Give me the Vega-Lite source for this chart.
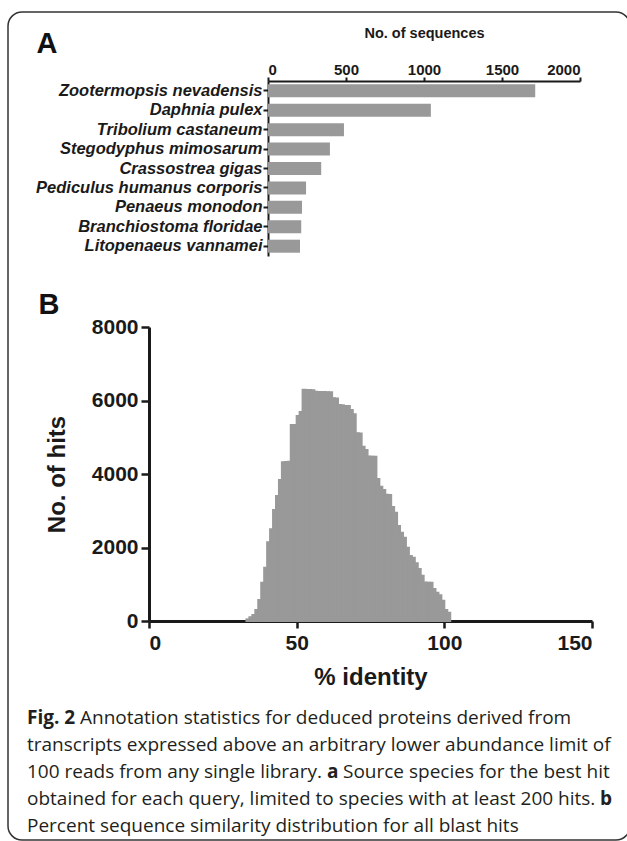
{
  "$schema": "https://vega.github.io/schema/vega-lite/v6.json",
  "width": 622,
  "height": 828,
  "autosize": {"type": "none"},
  "padding": {"left": 8, "top": 12, "right": -3, "bottom": 1},
  "background": "white",
  "config": {
    "font": "Liberation Sans",
    "view": {"stroke": "#333333", "strokeWidth": 1.5, "cornerRadius": 14, "fill": "white"},
    "axis": {
      "grid": false,
      "domainColor": "#1a1a1a",
      "tickColor": "#1a1a1a",
      "labelColor": "#1a1a1a",
      "titleColor": "#1a1a1a",
      "labelFont": "Liberation Sans",
      "titleFont": "Liberation Sans",
      "labelFontWeight": "bold",
      "titleFontWeight": "bold",
      "labelLimit": 400
    }
  },
  "resolve": {
    "scale": {"x": "independent", "y": "independent"},
    "axis": {"x": "independent", "y": "independent"}
  },
  "layer": [
    {
      "data": {
        "values": [
          {"species": "Zootermopsis nevadensis", "sequences": 1713},
          {"species": "Daphnia pulex", "sequences": 1044},
          {"species": "Tribolium castaneum", "sequences": 487},
          {"species": "Stegodyphus mimosarum", "sequences": 397},
          {"species": "Crassostrea gigas", "sequences": 341},
          {"species": "Pediculus humanus corporis", "sequences": 244},
          {"species": "Penaeus monodon", "sequences": 218},
          {"species": "Branchiostoma floridae", "sequences": 213},
          {"species": "Litopenaeus vannamei", "sequences": 205}
        ]
      },
      "mark": {"type": "bar", "color": "#999999", "opacity": 1},
      "encoding": {
        "y": {
          "field": "species",
          "type": "nominal",
          "sort": null,
          "scale": {"range": [69, 244], "paddingInner": 0.33, "paddingOuter": 0.17},
          "axis": {
            "orient": "left",
            "offset": -260,
            "title": null,
            "labelFontStyle": "italic",
            "labelFontSize": 16.5,
            "labelPadding": 1,
            "labelLimit": 400,
            "tickSize": 5,
            "tickWidth": 2,
            "domainWidth": 2
          }
        },
        "x": {
          "field": "sequences",
          "type": "quantitative",
          "scale": {"domain": [0, 2000], "range": [260, 572], "nice": false},
          "axis": {
            "orient": "top",
            "offset": -69,
            "values": [0, 500, 1000, 1500, 2000],
            "format": "d",
            "title": "No. of sequences",
            "titleFontSize": 14.5,
            "titleY": -48,
            "titleBaseline": "middle",
            "labelFontSize": 15,
            "labelPadding": 0,
            "tickSize": 4,
            "tickWidth": 2,
            "domainWidth": 2
          }
        }
      }
    },
    {
      "data": {
        "values": [
          {"bin_start": 33, "bin_end": 34, "hits": 45},
          {"bin_start": 34, "bin_end": 35, "hits": 100},
          {"bin_start": 35, "bin_end": 36, "hits": 163},
          {"bin_start": 36, "bin_end": 37, "hits": 300},
          {"bin_start": 37, "bin_end": 38, "hits": 570},
          {"bin_start": 38, "bin_end": 39, "hits": 1043},
          {"bin_start": 39, "bin_end": 40, "hits": 1452},
          {"bin_start": 40, "bin_end": 41, "hits": 2141},
          {"bin_start": 41, "bin_end": 42, "hits": 2494},
          {"bin_start": 42, "bin_end": 43, "hits": 3020},
          {"bin_start": 43, "bin_end": 44, "hits": 3401},
          {"bin_start": 44, "bin_end": 45, "hits": 3837},
          {"bin_start": 45, "bin_end": 46, "hits": 4320},
          {"bin_start": 46, "bin_end": 47, "hits": 4327},
          {"bin_start": 47, "bin_end": 48, "hits": 4331},
          {"bin_start": 48, "bin_end": 49, "hits": 5330},
          {"bin_start": 49, "bin_end": 50, "hits": 5336},
          {"bin_start": 50, "bin_end": 51, "hits": 5578},
          {"bin_start": 51, "bin_end": 52, "hits": 5687},
          {"bin_start": 52, "bin_end": 53, "hits": 6290},
          {"bin_start": 53, "bin_end": 54, "hits": 6286},
          {"bin_start": 54, "bin_end": 55, "hits": 6284},
          {"bin_start": 55, "bin_end": 56, "hits": 6281},
          {"bin_start": 56, "bin_end": 57, "hits": 6236},
          {"bin_start": 57, "bin_end": 58, "hits": 6233},
          {"bin_start": 58, "bin_end": 59, "hits": 6231},
          {"bin_start": 59, "bin_end": 60, "hits": 6229},
          {"bin_start": 60, "bin_end": 61, "hits": 6227},
          {"bin_start": 61, "bin_end": 62, "hits": 6224},
          {"bin_start": 62, "bin_end": 63, "hits": 6062},
          {"bin_start": 63, "bin_end": 64, "hits": 6055},
          {"bin_start": 64, "bin_end": 65, "hits": 5880},
          {"bin_start": 65, "bin_end": 66, "hits": 5874},
          {"bin_start": 66, "bin_end": 67, "hits": 5852},
          {"bin_start": 67, "bin_end": 68, "hits": 5847},
          {"bin_start": 68, "bin_end": 69, "hits": 5741},
          {"bin_start": 69, "bin_end": 70, "hits": 5624},
          {"bin_start": 70, "bin_end": 71, "hits": 5110},
          {"bin_start": 71, "bin_end": 72, "hits": 5104},
          {"bin_start": 72, "bin_end": 73, "hits": 4744},
          {"bin_start": 73, "bin_end": 74, "hits": 4653},
          {"bin_start": 74, "bin_end": 75, "hits": 4476},
          {"bin_start": 75, "bin_end": 76, "hits": 4472},
          {"bin_start": 76, "bin_end": 77, "hits": 4468},
          {"bin_start": 77, "bin_end": 78, "hits": 3864},
          {"bin_start": 78, "bin_end": 79, "hits": 3655},
          {"bin_start": 79, "bin_end": 80, "hits": 3565},
          {"bin_start": 80, "bin_end": 81, "hits": 3432},
          {"bin_start": 81, "bin_end": 82, "hits": 3426},
          {"bin_start": 82, "bin_end": 83, "hits": 3102},
          {"bin_start": 83, "bin_end": 84, "hits": 2948},
          {"bin_start": 84, "bin_end": 85, "hits": 2585},
          {"bin_start": 85, "bin_end": 86, "hits": 2404},
          {"bin_start": 86, "bin_end": 87, "hits": 2268},
          {"bin_start": 87, "bin_end": 88, "hits": 1995},
          {"bin_start": 88, "bin_end": 89, "hits": 1769},
          {"bin_start": 89, "bin_end": 90, "hits": 1723},
          {"bin_start": 90, "bin_end": 91, "hits": 1569},
          {"bin_start": 91, "bin_end": 92, "hits": 1415},
          {"bin_start": 92, "bin_end": 93, "hits": 1233},
          {"bin_start": 93, "bin_end": 94, "hits": 1046},
          {"bin_start": 94, "bin_end": 95, "hits": 1043},
          {"bin_start": 95, "bin_end": 96, "hits": 1040},
          {"bin_start": 96, "bin_end": 97, "hits": 871},
          {"bin_start": 97, "bin_end": 98, "hits": 771},
          {"bin_start": 98, "bin_end": 99, "hits": 699},
          {"bin_start": 99, "bin_end": 100, "hits": 553},
          {"bin_start": 100, "bin_end": 101, "hits": 299},
          {"bin_start": 101, "bin_end": 102, "hits": 227}
        ]
      },
      "mark": {"type": "rect", "color": "#999999", "opacity": 1, "stroke": "#999999", "strokeOpacity": 1, "strokeWidth": 2},
      "encoding": {
        "x": {
          "field": "bin_start",
          "type": "quantitative",
          "scale": {"domain": [0, 150], "range": [141, 584], "nice": false, "zero": false},
          "axis": {
            "orient": "bottom",
            "offset": -219,
            "values": [0, 50, 100, 150],
            "format": "d",
            "title": "% identity",
            "titleFontSize": 24,
            "titleY": 56,
            "titleBaseline": "middle",
            "labelFontSize": 21,
            "labelPadding": 4,
            "tickSize": 7,
            "tickWidth": 2.5,
            "domainWidth": 3
          }
        },
        "x2": {"field": "bin_end"},
        "y": {
          "field": "hits",
          "type": "quantitative",
          "scale": {"domain": [0, 8000], "range": [609, 315], "nice": false},
          "axis": {
            "orient": "left",
            "offset": -141,
            "values": [0, 2000, 4000, 6000, 8000],
            "format": "d",
            "title": "No. of hits",
            "titleFontSize": 24,
            "titleX": -92,
            "titleBaseline": "middle",
            "labelFontSize": 21,
            "labelPadding": 3,
            "tickSize": 8,
            "tickWidth": 2.5,
            "domainWidth": 3
          }
        },
        "y2": {"datum": 0}
      }
    },
    {
      "data": {"values": [{"label": "A"}]},
      "mark": {"type": "text", "font": "Liberation Sans", "fontWeight": "bold", "fontSize": 29, "align": "center", "baseline": "middle", "color": "#111111"},
      "encoding": {"x": {"value": 39}, "y": {"value": 32}, "text": {"field": "label"}}
    },
    {
      "data": {"values": [{"label": "B"}]},
      "mark": {"type": "text", "font": "Liberation Sans", "fontWeight": "bold", "fontSize": 29, "align": "center", "baseline": "middle", "color": "#111111"},
      "encoding": {"x": {"value": 41}, "y": {"value": 293}, "text": {"field": "label"}}
    },
    {
      "data": {
        "values": [
          {"line": 2, "text": "transcripts expressed above an arbitrary lower abundance limit of"},
          {"line": 3, "text": "100 reads from any single library."},
          {"line": 4, "text": "obtained for each query, limited to species with at least 200 hits."},
          {"line": 5, "text": "Percent sequence similarity distribution for all blast hits"}
        ]
      },
      "mark": {"type": "text", "font": "Open Sans", "fontSize": 19, "align": "left", "baseline": "middle", "color": "#231f20"},
      "encoding": {
        "y": {"field": "line", "type": "quantitative", "scale": {"domain": [1, 5], "range": [706, 814]}, "axis": null},
        "x": {"value": 19},
        "text": {"field": "text"}
      }
    },
    {
      "data": {"values": [{"line": 1, "text": "Annotation statistics for deduced proteins derived from"}]},
      "mark": {"type": "text", "font": "Open Sans", "fontSize": 19, "align": "left", "baseline": "middle", "color": "#231f20"},
      "encoding": {
        "y": {"field": "line", "type": "quantitative", "scale": {"domain": [1, 5], "range": [706, 814]}, "axis": null},
        "x": {"value": 72},
        "text": {"field": "text"}
      }
    },
    {
      "data": {"values": [{"line": 3, "text": "Source species for the best hit"}]},
      "mark": {"type": "text", "font": "Open Sans", "fontSize": 19, "align": "left", "baseline": "middle", "color": "#231f20"},
      "encoding": {
        "y": {"field": "line", "type": "quantitative", "scale": {"domain": [1, 5], "range": [706, 814]}, "axis": null},
        "x": {"value": 335},
        "text": {"field": "text"}
      }
    },
    {
      "data": {"values": [{"line": 1, "text": "Fig. 2"}]},
      "mark": {"type": "text", "font": "Open Sans", "fontWeight": "bold", "fontSize": 19, "align": "left", "baseline": "middle", "color": "#231f20"},
      "encoding": {
        "y": {"field": "line", "type": "quantitative", "scale": {"domain": [1, 5], "range": [706, 814]}, "axis": null},
        "x": {"value": 19},
        "text": {"field": "text"}
      }
    },
    {
      "data": {"values": [{"line": 3, "text": "a"}]},
      "mark": {"type": "text", "font": "Open Sans", "fontWeight": "bold", "fontSize": 19, "align": "left", "baseline": "middle", "color": "#231f20"},
      "encoding": {
        "y": {"field": "line", "type": "quantitative", "scale": {"domain": [1, 5], "range": [706, 814]}, "axis": null},
        "x": {"value": 319},
        "text": {"field": "text"}
      }
    },
    {
      "data": {"values": [{"line": 4, "text": "b"}]},
      "mark": {"type": "text", "font": "Open Sans", "fontWeight": "bold", "fontSize": 19, "align": "left", "baseline": "middle", "color": "#231f20"},
      "encoding": {
        "y": {"field": "line", "type": "quantitative", "scale": {"domain": [1, 5], "range": [706, 814]}, "axis": null},
        "x": {"value": 592},
        "text": {"field": "text"}
      }
    }
  ]
}
